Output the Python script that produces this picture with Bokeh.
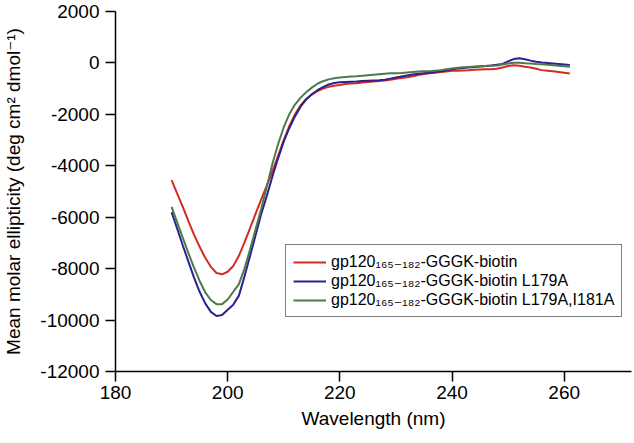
from bokeh.plotting import figure
from bokeh.models import Legend, LegendItem, FixedTicker, Range1d, PrintfTickFormatter
from bokeh.embed import file_html
from bokeh.resources import INLINE

wavelength = list(range(190, 262))

wt = [-4560, -5080, -5600, -6150, -6680, -7150, -7580, -7930, -8170, -8220,
      -8120, -7900, -7500, -6980, -6420, -5850, -5300, -4750, -4200, -3600,
      -3000, -2450, -2000, -1650, -1400, -1230, -1100, -1000, -930, -890,
      -860, -820, -800, -790, -760, -740, -720, -700, -680, -650,
      -620, -590, -560, -520, -470, -430, -400, -380, -350, -330,
      -300, -300, -290, -285, -270, -260, -250, -245, -230, -180,
      -120, -90, -110, -150, -180, -230, -280, -300, -320, -350,
      -380, -410]

l179a = [-5800, -6450, -7100, -7730, -8350, -8900, -9350, -9680, -9840, -9800,
         -9600, -9400, -9050, -8300, -7500, -6680, -5860, -5150, -4400, -3700,
         -3050, -2530, -2080, -1700, -1420, -1220, -1060, -940, -840, -780,
         -750, -740, -730, -720, -700, -690, -680, -670, -650, -610,
         -570, -530, -490, -450, -420, -400, -380, -350, -320, -290,
         -250, -220, -200, -180, -160, -140, -120, -100, -70, -40,
         60, 150, 180, 140, 90, 50, 20, 0, -20, -40,
         -60, -80]

l179a_i181a = [-5600, -6200, -6800, -7400, -7960, -8480, -8920, -9220, -9380, -9380,
               -9200, -8900, -8600, -8000, -7250, -6450, -5650, -4800, -3900, -3150,
               -2500, -1990, -1620, -1350, -1140, -960, -810, -710, -640, -600,
               -570, -550, -530, -520, -500, -480, -460, -440, -420, -400,
               -400, -390, -370, -350, -330, -320, -320, -300, -280, -250,
               -220, -190, -170, -155, -140, -130, -120, -110, -100, -60,
               -20, 10, 10, -10, -27, -40, -50, -70, -90, -110,
               -130, -150]

labels = [
    "gp120\u2081\u2086\u2085\u208b\u2081\u2088\u2082-GGGK-biotin",
    "gp120\u2081\u2086\u2085\u208b\u2081\u2088\u2082-GGGK-biotin L179A",
    "gp120\u2081\u2086\u2085\u208b\u2081\u2088\u2082-GGGK-biotin L179A,I181A",
]
colors = ["#d42b20", "#2b2190", "#4c7a4c"]
x_ticks = [180, 200, 220, 240, 260]
y_ticks = [-12000, -10000, -8000, -6000, -4000, -2000, 0, 2000]

FONT = "Liberation Sans, DejaVu Sans"

p = figure(width=634, height=443, output_backend="svg", toolbar_location=None,
           x_range=Range1d(180, 272), y_range=Range1d(-12000, 2000),
           min_border_left=115, min_border_top=11, min_border_right=3, min_border_bottom=72)
p.outline_line_color = None
p.xgrid.visible = False
p.ygrid.visible = False
p.background_fill_color = "white"
p.border_fill_color = "white"

renderers = []
for ys, c in zip([wt, l179a, l179a_i181a], colors):
    r = p.line(wavelength, ys, line_color=c, line_width=2)
    renderers.append(r)

p.xaxis.ticker = FixedTicker(ticks=x_ticks)
p.yaxis.ticker = FixedTicker(ticks=y_ticks)
p.xaxis.formatter = PrintfTickFormatter(format="%d")
p.yaxis.formatter = PrintfTickFormatter(format="%d")
p.xaxis.axis_label = "Wavelength (nm)"
p.yaxis.axis_label = "Mean molar ellipticity (deg cm\u00b2 dmol\u207b\u00b9)"
for ax in (p.xaxis[0], p.yaxis[0]):
    ax.axis_line_color = "black"
    ax.axis_line_width = 1.5
    ax.major_tick_line_color = "black"
    ax.major_tick_line_width = 1.5
    ax.major_tick_out = 10
    ax.major_tick_in = 0
    ax.minor_tick_line_color = None
    ax.major_label_text_font = FONT
    ax.major_label_text_font_size = "19px"
    ax.major_label_text_color = "black"
    ax.axis_label_text_font = FONT
    ax.axis_label_text_font_size = "19px"
    ax.axis_label_text_font_style = "normal"
    ax.axis_label_text_color = "black"
p.xaxis.major_label_standoff = 4
p.xaxis.axis_label_standoff = 6
p.yaxis.major_label_standoff = 6
p.yaxis.axis_label_standoff = 13

legend = Legend(items=[LegendItem(label=l, renderers=[r]) for l, r in zip(labels, renderers)],
                location=(170, 54))
legend.label_text_font = FONT
legend.label_text_font_size = "16px"
legend.label_text_line_height = 1.0
legend.label_text_color = "black"
legend.glyph_width = 33
legend.glyph_height = 18
legend.label_height = 18
legend.label_standoff = 5
legend.spacing = 0
legend.padding = 7
legend.margin = 0
legend.border_line_color = "black"
legend.border_line_width = 1.5
legend.background_fill_color = "white"
legend.background_fill_alpha = 1
p.add_layout(legend, "center")

open("out.html", "w").write(file_html(p, INLINE))
